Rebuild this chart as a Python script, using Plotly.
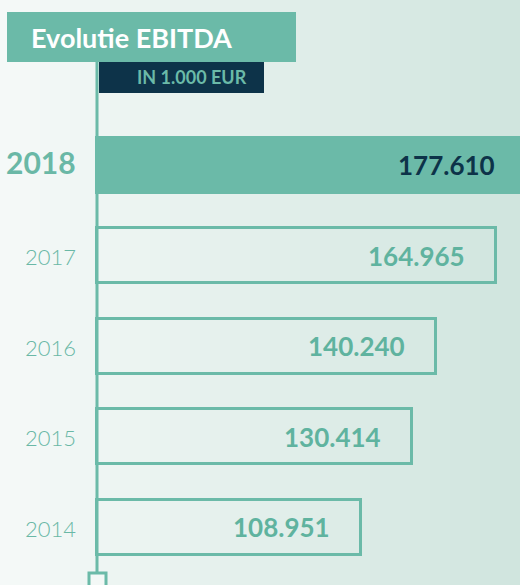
import plotly.graph_objects as go

# EBITDA in 1.000 EUR
years = [2018, 2017, 2016, 2015, 2014]
ebitda = [177.610, 164.965, 140.240, 130.414, 108.951]
value_labels = ["177.610", "164.965", "140.240", "130.414", "108.951"]
year_labels = ["2018", "2017", "2016", "2015", "2014"]

TEAL = "#6bbaa8"
NAVY = "#0d3349"
W, H = 520, 585
X_RANGE = [-40.37, 174.95]
PX_PER_UNIT = W / (X_RANGE[1] - X_RANGE[0])

fig = go.Figure()

# 2018 highlighted as a filled bar, earlier years drawn as outlined boxes
fill_colors = [TEAL] + ["rgba(0,0,0,0)"] * (len(years) - 1)
fig.add_trace(
    go.Bar(
        x=ebitda,
        y=years,
        orientation="h",
        width=0.61,
        marker=dict(color=fill_colors, line=dict(color=TEAL, width=3)),
        hoverinfo="skip",
        showlegend=False,
    )
)

# background gradient (light left -> soft mint right)
left_rgb = (245, 249, 248)
right_rgb = (208, 229, 222)
steps = 52
for i in range(steps):
    t = i / (steps - 1)
    c = tuple(round(a + (b - a) * t) for a, b in zip(left_rgb, right_rgb))
    fig.add_shape(
        type="rect", xref="paper", yref="paper",
        x0=i / steps, x1=(i + 1) / steps + 0.002, y0=0, y1=1,
        fillcolor=f"rgb{c}", line_width=0, layer="below",
    )

# vertical axis line with the little square at its foot
fig.add_shape(
    type="line", xref="paper", yref="paper",
    x0=97 / W, x1=97 / W, y0=1 - 62 / H, y1=1 - 572 / H,
    line=dict(color=TEAL, width=3),
)
fig.add_shape(
    type="rect", xref="paper", yref="paper",
    x0=89 / W, x1=106 / W, y0=1 - 573 / H, y1=1 - 592 / H,
    line=dict(color=TEAL, width=3), fillcolor="#f3f8f6",
)

# title boxes
fig.add_shape(
    type="rect", xref="paper", yref="paper",
    x0=7 / W, x1=296 / W, y0=1 - 12 / H, y1=1 - 62 / H,
    fillcolor=TEAL, line_width=0,
)
fig.add_shape(
    type="rect", xref="paper", yref="paper",
    x0=99 / W, x1=264 / W, y0=1 - 62 / H, y1=1 - 93 / H,
    fillcolor=NAVY, line_width=0,
)
fig.add_annotation(
    x=29 / W, y=1 - 38 / H, xref="paper", yref="paper",
    text="<b>Evolutie EBITDA</b>", showarrow=False, xanchor="left", yanchor="middle",
    font=dict(family="Lato", size=27, color="white"),
)
fig.add_annotation(
    x=135 / W, y=1 - 77 / H, xref="paper", yref="paper",
    text="<b>IN 1.000 EUR</b>", showarrow=False, xanchor="left", yanchor="middle",
    font=dict(family="Lato", size=18, color=TEAL),
)

# value labels inside bars, year labels left of the axis
x_max = X_RANGE[1] - 0.05
for i, (yr, val, lab, ylab) in enumerate(zip(years, ebitda, value_labels, year_labels)):
    first = i == 0
    anchor_x = min(val, x_max)
    fig.add_annotation(
        x=anchor_x, y=yr, xref="x", yref="y",
        text=f"<b>{lab}</b>", showarrow=False, xanchor="right", yanchor="middle",
        xshift=-29 + (val - anchor_x) * PX_PER_UNIT,
        font=dict(family="Lato", size=26, color=NAVY if first else "#5fb39f"),
    )
    fig.add_annotation(
        x=78 / W, y=yr, xref="paper", yref="y",
        text=f"<b>{ylab}</b>" if first else ylab,
        showarrow=False, xanchor="right", yanchor="middle",
        yshift=3 if first else -1,
        font=dict(family="Lato", size=30 if first else 22, color="#6ab8a6",
                  weight=None if first else 300),
    )

fig.update_layout(
    width=W, height=H,
    margin=dict(l=0, r=0, t=0, b=0),
    paper_bgcolor="#eef5f2",
    plot_bgcolor="rgba(0,0,0,0)",
    xaxis=dict(range=X_RANGE, visible=False, fixedrange=True),
    yaxis=dict(range=[2013.36, 2019.83], visible=False, fixedrange=True),
    bargap=0,
)

fig.write_html(
    "out.html",
    config={"displayModeBar": False},
    post_script="document.body.style.margin='0';",
)
